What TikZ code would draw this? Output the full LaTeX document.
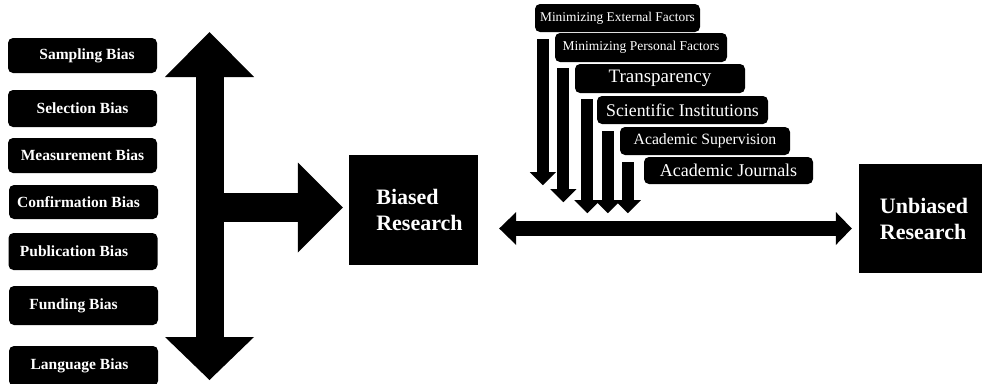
\documentclass[tikz,border=0pt]{standalone}
\usepackage{fontspec}
\setmainfont{Liberation Serif}
\usetikzlibrary{arrows.meta}

\tikzset{
  biasbox/.style={fill=black, text=white, rounded corners=5pt, inner sep=0pt,
    minimum width=149pt, font=\bfseries\fontsize{15.5}{18}\selectfont},
  factorbox/.style={fill=black, text=white, rounded corners=5pt, inner sep=0pt},
  resbox/.style={fill=black, text=white, inner sep=0pt, align=left,
    font=\bfseries\fontsize{22}{26}\selectfont},
  bigarrow/.style={line width=28pt,
    {Triangle[width=89pt,length=45pt,line width=0pt]}-{Triangle[width=89pt,length=43pt,line width=0pt]}},
  branch/.style={line width=29pt, -{Triangle[width=90pt,length=45pt,line width=0pt]}},
  linkarrow/.style={line width=15pt,
    {Triangle[width=33pt,length=17pt,line width=0pt]}-{Triangle[width=33pt,length=16pt,line width=0pt]}},
  downarrow/.style={line width=12pt, -{Triangle[width=26pt,length=13pt,line width=0pt]}}
}

\begin{document}
\begin{tikzpicture}[x=1pt, y=-1pt]
  \useasboundingbox (0,0) rectangle (982,383);
  \clip (0,0) rectangle (982,383);

  % kinds of bias
  \node[biasbox, minimum height=35pt] (sampling) at (82.5,55.5) {\hspace*{9pt}Sampling Bias};
  \node[biasbox, minimum height=37pt] (selection) at (82.5,108.5) {Selection Bias};
  \node[biasbox, minimum height=35pt] (measurement) at (82.5,155.5) {Measurement Bias};
  \node[biasbox, minimum height=34pt] (confirmation) at (83.5,202) {Confirmation Bias\hspace*{10pt}};
  \node[biasbox, minimum height=37pt] (publication) at (83,251.5) {Publication Bias\hspace*{18pt}};
  \node[biasbox, minimum height=39pt] (funding) at (83.5,305.5) {Funding Bias\hspace*{20pt}};
  \node[biasbox, minimum height=40pt] (language) at (83.5,366) {Language Bias\hspace*{8pt}};

  % research
  \node[resbox, minimum width=129pt, minimum height=110pt] (biased) at (413.5,210) {\hspace*{12pt}Biased\\\hspace*{12pt}Research};
  \node[resbox, minimum width=130pt, minimum height=109pt] (unbiased) at (924,218.5) {Unbiased\\Research};

  % what keeps research unbiased
  \node[factorbox, minimum width=165pt, minimum height=28pt, font=\fontsize{13.4}{16}\selectfont]
    (external) at (617.5,18) {Minimizing External Factors};
  \node[factorbox, minimum width=172pt, minimum height=29pt, font=\fontsize{13.5}{16}\selectfont]
    (personal) at (641,47.5) {Minimizing Personal Factors};
  \node[factorbox, minimum width=170pt, minimum height=29pt, font=\fontsize{19}{22}\selectfont]
    (transparency) at (660,78.5) {Transparency};
  \node[factorbox, minimum width=171pt, minimum height=28pt, font=\fontsize{17.8}{21}\selectfont]
    (institutions) at (682.5,110) {Scientific Institutions};
  \node[factorbox, minimum width=170pt, minimum height=28pt, font=\fontsize{15.7}{19}\selectfont]
    (supervision) at (705,141) {Academic Supervision};
  \node[factorbox, minimum width=169pt, minimum height=27pt, font=\fontsize{18}{21}\selectfont]
    (journals) at (728.5,170.5) {Academic Journals};

  % arrows
  \coordinate (vtop) at (209.5,32);
  \coordinate (vbot) at (209.5,380);
  \coordinate (junct) at (209.5,207.5);
  \coordinate (lnk) at (0,228.5);
  \draw[bigarrow] (vtop) -- (vbot);
  \draw[branch, shorten >=6pt] (junct) -- (biased.west |- junct);
  \draw[linkarrow, shorten <=21pt, shorten >=7pt] (biased.east |- lnk) -- (unbiased.west |- lnk);

  \draw[downarrow] ([xshift=8pt,yshift=-7pt]external.south west) -- ++(0,146);
  \draw[downarrow] ([xshift=8.5pt,yshift=-6pt]personal.south west) -- ++(0,134);
  \draw[downarrow] ([xshift=12.5pt,yshift=-6pt]transparency.south west) -- ++(0,114);
  \draw[downarrow] ([xshift=11pt,yshift=-7pt]institutions.south west) -- ++(0,82);
  \draw[downarrow] ([xshift=8pt,yshift=-7pt]supervision.south west) -- ++(0,51);
\end{tikzpicture}
\end{document}
